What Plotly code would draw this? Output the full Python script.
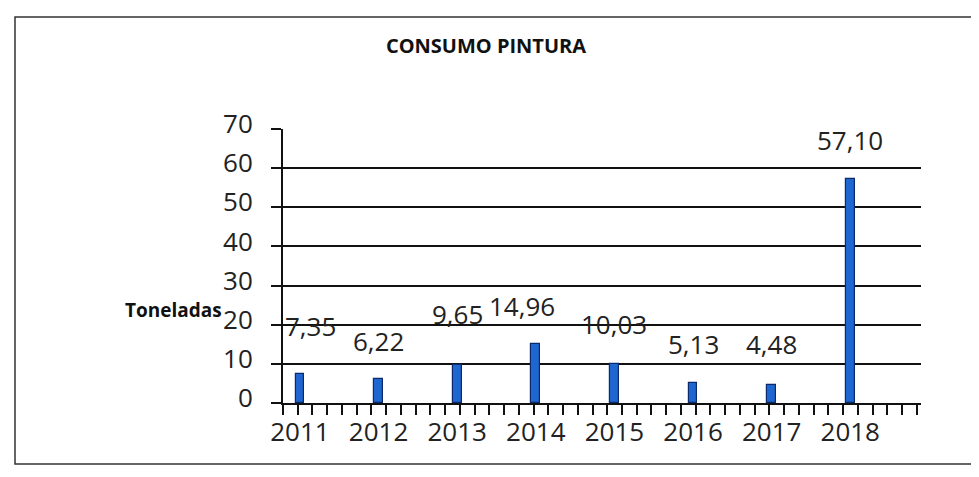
import plotly.graph_objects as go

years = ["2011", "2012", "2013", "2014", "2015", "2016", "2017", "2018"]
values = [7.35, 6.22, 9.65, 14.96, 10.03, 5.13, 4.48, 57.10]
y_ticks = [0, 10, 20, 30, 40, 50, 60, 70]

# label placement tweaks (style only): pixel offsets of label centres from bar tops
label_xshift = [11, 0, 0, -14, 0, 0, 0, 0]
label_yshift = [48, 38, 51, 38, 40, 39, 41, 39]

W, H = 979, 477
L, R, T, B = 275, 66, 121, 82
pw, ph = W - L - R, H - T - B

xpos = list(range(len(years)))
FONT = "Open Sans"

fig = go.Figure()
fig.add_trace(go.Bar(
    x=xpos, y=values, width=0.11,
    marker=dict(color="#1f66d1", line=dict(color="#0b2a6b", width=1.2)),
    hoverinfo="skip", showlegend=False,
))

for i, v in enumerate(values):
    fig.add_annotation(
        x=xpos[i], y=v, xref="x", yref="y",
        text=f"{v:.2f}".replace(".", ","),
        showarrow=False, yanchor="middle", xanchor="center",
        xshift=label_xshift[i], yshift=label_yshift[i],
        font=dict(family=FONT, size=26, color="#222"),
    )

def px_x(p): return (p - L) / pw
def px_y(p): return (H - B - p) / ph

fig.add_annotation(
    x=px_x(165), y=px_y(302), xref="paper", yref="paper",
    xanchor="center", yanchor="middle",
    text="<b>Toneladas</b>", showarrow=False,
    font=dict(family=FONT, size=19, color="#111"),
)

# outer frame
fig.add_shape(type="rect", xref="paper", yref="paper",
              x0=px_x(7), x1=px_x(990), y0=px_y(456), y1=px_y(9),
              line=dict(color="#333", width=1.5), fillcolor="rgba(0,0,0,0)")

fig.update_layout(
    width=W, height=H,
    margin=dict(l=L, r=R, t=T, b=B),
    paper_bgcolor="white", plot_bgcolor="white",
    title=dict(text="<b>CONSUMO PINTURA</b>", x=478 / W, xanchor="center",
               y=1 - 38 / H, yanchor="middle",
               font=dict(family=FONT, size=20, color="#111")),
    bargap=0,
    font=dict(family=FONT, color="#222"),
)

fig.update_xaxes(
    range=[-0.216, 7.9], tickmode="array", tickvals=xpos, ticktext=years,
    ticks="", showgrid=False, zeroline=False,
    showline=True, linecolor="#111", linewidth=2,
    tickfont=dict(family=FONT, size=26, color="#222"),
    ticklabelstandoff=5,
    minor=dict(tick0=-0.216, dtick=0.1875, ticks="outside", ticklen=10,
               tickwidth=1.5, tickcolor="#111", showgrid=False),
)
fig.update_yaxes(
    range=[0, 70], tickmode="array", tickvals=y_ticks,
    ticks="outside", ticklen=10, tickwidth=1.5, tickcolor="#111",
    showgrid=True, gridcolor="#111", gridwidth=2,
    zeroline=False, showline=True, linecolor="#111", linewidth=2,
    tickfont=dict(family=FONT, size=26, color="#222"),
    ticklabelshift=-5, ticklabelstandoff=13,
)

fig.write_html("out.html")
